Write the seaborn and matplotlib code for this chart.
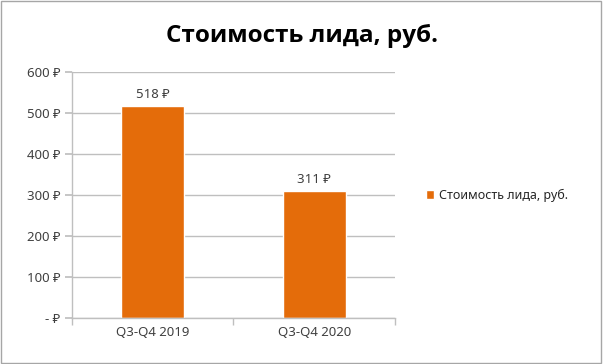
import matplotlib
matplotlib.use("Agg")
import matplotlib.pyplot as plt
import seaborn as sns
import pandas as pd
from matplotlib.ticker import FuncFormatter, FixedLocator

periods = ["Q3-Q4 2019", "Q3-Q4 2020"]
lead_cost = [518, 311]
series_name = "Стоимость лида, руб."
title = "Стоимость лида, руб."

sns.set_theme(style="white")
plt.rcParams['font.family'] = ['Noto Sans', 'DejaVu Sans']

bar_color = '#E46C0A'
text_color = '#404040'
grid_color = '#BFBFBF'

df = pd.DataFrame({"period": periods, "cost": lead_cost})

fig = plt.figure(figsize=(6.03, 3.64), dpi=100)
ax = fig.add_axes([0.119, 0.126, 0.536, 0.676])

sns.barplot(data=df, x="period", y="cost", color=bar_color, width=0.39,
            saturation=1, ax=ax, label=series_name)

ax.set_ylim(0, 600)
ax.set_xlim(-0.5, 1.5)
ax.set_yticks(range(0, 601, 100))
ax.yaxis.set_major_formatter(FuncFormatter(lambda v, p: "- ₽" if v == 0 else f"{int(v)} ₽"))
ax.grid(axis='y', color=grid_color, linewidth=1)
ax.set_axisbelow(True)
for s in ['top', 'right']:
    ax.spines[s].set_visible(False)
for s in ['left', 'bottom']:
    ax.spines[s].set_color(grid_color)
    ax.spines[s].set_linewidth(1)

ax.tick_params(axis='y', left=True, length=5, color=grid_color, labelsize=9.5,
               labelcolor=text_color, pad=3)
ax.tick_params(axis='x', which='major', length=0, labelsize=9.5,
               labelcolor=text_color, pad=6)
ax.xaxis.set_minor_locator(FixedLocator([-0.5, 0.5, 1.5]))
ax.tick_params(axis='x', which='minor', bottom=True, length=5, color=grid_color)
ax.set_xlabel("")
ax.set_ylabel("")

for i, v in enumerate(lead_cost):
    ax.text(i, v + 12, f"{v} ₽", ha='center', va='bottom', fontsize=9.5, color=text_color)

fig.text(0.5, 0.9, title, ha='center', va='center', fontsize=17.5,
         fontweight='bold', color='black', family=['Open Sans', 'DejaVu Sans'])

ax.legend(loc='center left', bbox_to_anchor=(1.06, 0.5), frameon=False,
          fontsize=9, handlelength=0.7, handleheight=0.7, handletextpad=0.4,
          labelcolor='#262626')

fig.patches.append(plt.Rectangle((0.002, 0.003), 0.995, 0.993, transform=fig.transFigure,
                                 fill=False, edgecolor='#A6A6A6', linewidth=1))

fig.savefig("out.png", dpi=100)
